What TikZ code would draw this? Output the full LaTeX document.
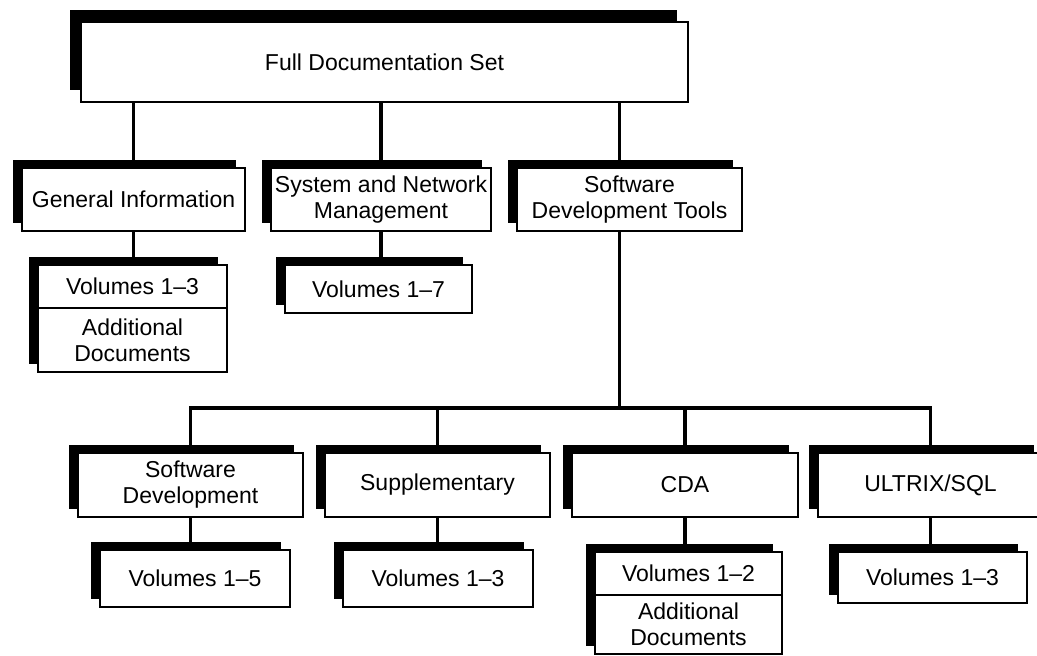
\documentclass[tikz,border=0pt]{standalone}
\usepackage{fontspec}
\setmainfont{Liberation Sans}
\usetikzlibrary{shadows}

\begin{document}
\begin{tikzpicture}[x=0.5pt, y=-0.5pt,
    plain/.style = {draw, fill=white, line width=1.3pt, align=center,
                inner sep=2pt, font=\fontsize{11.5}{13}\selectfont},
    box/.style = {plain, minimum height=#1,
                drop shadow={shadow xshift=-4.5pt, shadow yshift=4pt,
                             fill=black, opacity=1}},
    box/.default = 31.5pt,  % height of the boxes on one row
    link/.style = {line width=1.8pt}
                    ]
    \useasboundingbox (0,0) rectangle (1037,656);
    \clip (0,0) rectangle (1037,656);
    \coordinate (bus) at (0,408);
    % top row
    \node[plain, minimum height=40pt, minimum width=303.5pt,
          drop shadow={shadow xshift=-5.5pt, shadow yshift=6pt, fill=black, opacity=1}]
          (full) at (384.5,62) {Full Documentation Set};
    \node[box, minimum width=111.5pt] (geninfo) at (133.5,199.5) {General Information};
    \node[box, minimum width=109pt] (sysnet) at (381,199.5) {System and Network\\Management};
    \node[box, minimum width=112.5pt] (swtools) at (629.5,199.5) {Software\\Development Tools};
    \node[box=32pt, minimum width=94.5pt] (giadd) at (132.5,340) {Additional\\Documents};
    \node[box=21.5pt, minimum width=94.5pt] (givol) at (132.5,286.5) {Volumes 1--3};
    \node[box=24pt, minimum width=93.5pt] (snvol) at (378.5,289) {Volumes 1--7};
    % bottom row
    \node[box=32pt, minimum width=112.5pt] (swdev) at (190.5,485) {Software\\Development};
    \node[box=32pt, minimum width=112.5pt] (supp) at (437.5,485) {Supplementary};
    \node[box=32pt, minimum width=113pt] (cda) at (685,485) {CDA};
    \node[box=32pt, minimum width=112.5pt] (ultrix) at (930.5,485) {ULTRIX/SQL};
    \node[box=28.5pt, minimum width=95pt] (sdvol) at (195,578.5) {Volumes 1--5};
    \node[box=28.5pt, minimum width=95pt] (suvol) at (438,578.5) {Volumes 1--3};
    \node[box=29.5pt, minimum width=93.5pt] (cdaadd) at (688.5,624.5) {Additional\\Documents};
    \node[box=21.5pt, minimum width=93.5pt] (cdavol) at (688.5,573.5) {Volumes 1--2};
    \node[box=25.5pt, minimum width=94.5pt] (ulvol) at (932.5,577.5) {Volumes 1--3};
    % connectors
    \draw[link] (full.south -| geninfo.north) -- (geninfo.north);
    \draw[link] (full.south -| sysnet.north) -- (sysnet.north);
    \draw[link] ([xshift=-5pt]swtools.north |- full.south) -- ([xshift=-5pt]swtools.north);
    \draw[link] (geninfo.south) -- (geninfo.south |- givol.north);
    \draw[link] (sysnet.south) -- (sysnet.south |- snvol.north);
    \draw[link] ([xshift=-5pt]swtools.south) -- ([xshift=-5pt]swtools.south |- bus);
    \draw[link] (swdev.north) |- (bus -| ultrix.north) -- (ultrix.north);
    \draw[link] (supp.north) -- (supp.north |- bus);
    \draw[link] (cda.north) -- (cda.north |- bus);
    \draw[link] (swdev.south) -- (swdev.south |- sdvol.north);
    \draw[link] (supp.south) -- (supp.south |- suvol.north);
    \draw[link] (cda.south) -- (cda.south |- cdavol.north);
    \draw[link] (ultrix.south) -- (ultrix.south |- ulvol.north);
\end{tikzpicture}
\end{document}
